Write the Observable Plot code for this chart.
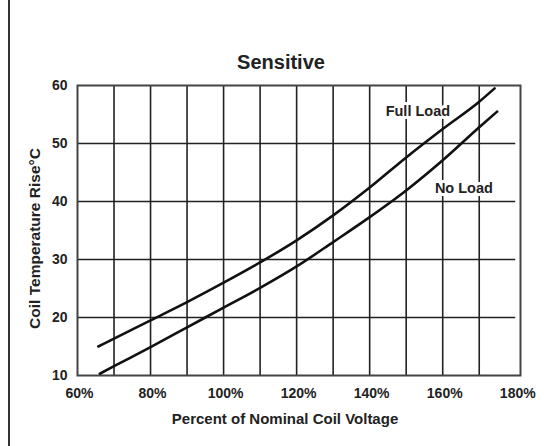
<!DOCTYPE html>
<html>
<head>
<meta charset="utf-8">
<script src="https://cdn.jsdelivr.net/npm/d3@7"></script>
<script src="https://cdn.jsdelivr.net/npm/@observablehq/plot@0.6"></script>
<style>
  html, body { margin: 0; padding: 0; background: #fff; }
  #wrap { position: relative; width: 558px; height: 446px; overflow: hidden; }
  #edge { position: absolute; left: 8px; top: 0; width: 2px; height: 446px; background: #333; }
</style>
</head>
<body>
<div id="wrap"><div id="edge"></div></div>
<script>
const chartTitle = "Sensitive";
const xTitle = "Percent of Nominal Coil Voltage";
const yTitle = "Coil Temperature Rise°C";

const xTickValues = [60, 80, 100, 120, 140, 160, 180];
const yTickValues = [10, 20, 30, 40, 50, 60];
const xGridValues = [70, 80, 90, 100, 110, 120, 130, 140, 150, 160, 170];
const yGridValues = [20, 30, 40, 50];

const fullLoadX = [65.7, 70, 80, 90, 100, 110, 120, 130, 140, 150, 160, 170, 174.2];
const fullLoadY = [15.0, 16.35, 19.5, 22.65, 26.0, 29.5, 33.3, 37.6, 42.4, 47.6, 52.5, 57.2, 59.5];
const noLoadX = [66.1, 70, 80, 90, 100, 110, 120, 130, 140, 150, 160, 170, 174.9];
const noLoadY = [10.3, 11.6, 14.9, 18.3, 21.7, 25.1, 28.8, 33.0, 37.3, 41.9, 47.1, 52.8, 55.5];

const seriesLabels = ["Full Load", "No Load"];
const labelX = [153.2, 165.8];
const labelY = [55.6, 42.3];

const rows = [
  ...fullLoadX.map((x, i) => ({series: seriesLabels[0], x, y: fullLoadY[i]})),
  ...noLoadX.map((x, i) => ({series: seriesLabels[1], x, y: noLoadY[i]}))
];
const labels = seriesLabels.map((s, i) => ({text: s, x: labelX[i], y: labelY[i]}));

const ink = "#222";
const chart = Plot.plot({
  width: 558,
  height: 446,
  marginLeft: 77,
  marginRight: 38,
  marginTop: 85,
  marginBottom: 71,
  style: {fontFamily: "'Liberation Sans', Arial, sans-serif", fontWeight: "bold", fontSize: "14px", color: ink, background: "transparent"},
  x: {domain: [60, 181.3]},
  y: {domain: [10, 60]},
  marks: [
    Plot.ruleX(xGridValues, {y1: 10, y2: 60, stroke: ink, strokeWidth: 1.6}),
    Plot.ruleY(yGridValues, {x1: 60, x2: 180, stroke: ink, strokeWidth: 1.6}),
    Plot.frame({stroke: "#444", strokeWidth: 2}),
    Plot.line(rows, {x: "x", y: "y", z: "series", stroke: "#111", strokeWidth: 2.6, curve: "monotone-x"}),
    Plot.text(labels, {x: "x", y: "y", text: "text", fontSize: 14.5, fontWeight: "bold", fill: ink, stroke: "white", strokeWidth: 6, paintOrder: "stroke"}),
    Plot.axisX(xTickValues, {tickSize: 0, tickPadding: 13, fontSize: 14, fontWeight: "bold", fill: ink, tickFormat: d => d + "%", label: null, dx: 2}),
    Plot.axisY(yTickValues, {tickSize: 0, tickPadding: 10, fontSize: 14, fontWeight: "bold", fill: ink, label: null}),
    Plot.text([xTitle], {frameAnchor: "bottom", lineAnchor: "middle", dy: 44, dx: -14, fontSize: 15, fontWeight: "bold", fill: ink}),
    Plot.text([yTitle], {frameAnchor: "left", textAnchor: "middle", dx: -42, dy: 8, rotate: -90, fontSize: 15.5, fontWeight: "bold", fill: ink}),
    Plot.text([chartTitle], {frameAnchor: "top", lineAnchor: "middle", dy: -23, dx: -18, fontSize: 20, fontWeight: "bold", fill: ink})
  ]
});
document.getElementById("wrap").appendChild(chart);
</script>
</body>
</html>
